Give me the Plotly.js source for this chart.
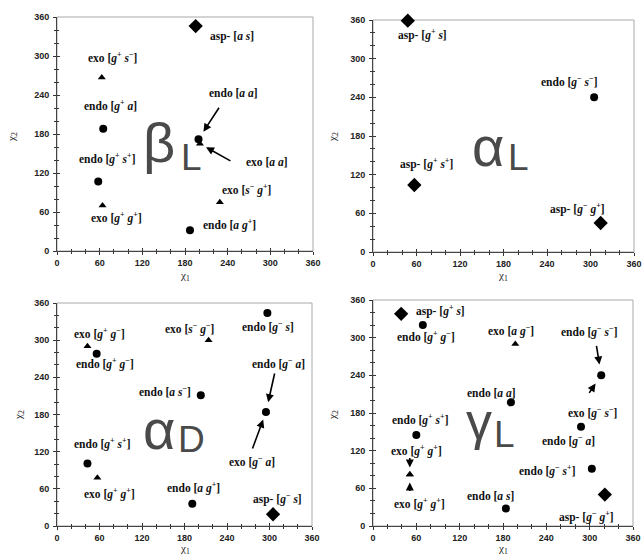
<!DOCTYPE html>
<html><head><meta charset="utf-8">
<script src="https://cdn.plot.ly/plotly-3.0.1.min.js"></script>
<style>html,body{margin:0;padding:0;background:#fff}#chart{width:643px;height:558px}</style>
</head><body><div id="chart"></div>
<script>
// ---------- DATA ----------
// beta-L panel
const bL_x = [195, 63, 65, 58, 64, 187, 229, 199, 201];
const bL_y = [346, 267, 188, 107, 70, 32, 75, 172, 165];
const bL_kind = ['asp','exo','endo','endo','exo','endo','exo','endo','exo'];
const bL_conf = ['a s','g+ s-','g+ a','g+ s+','g+ g+','a g+','s- g+','a a','a a'];
// alpha-L panel
const aL_x = [48, 305, 57, 314];
const aL_y = [359, 240, 104, 45];
const aL_kind = ['asp','endo','asp','asp'];
const aL_conf = ['g+ s','g- s-','g+ s+','g- g+'];
// alpha-D panel
const aD_x = [43, 56, 214, 297, 203, 295, 295, 43, 57, 191, 305];
const aD_y = [290, 278, 300, 344, 211, 184, 184, 101, 78, 36, 19];
const aD_kind = ['exo','endo','exo','endo','endo','endo','exo','endo','exo','endo','asp'];
const aD_conf = ['g+ g-','g+ g-','s- g-','g- s','a s-','g- a','g- a','g+ s+','g+ g+','a g+','g- s'];
// gamma-L panel
const gL_x = [39, 69, 197, 316, 316, 191, 60, 51, 51, 288, 303, 184, 321];
const gL_y = [338, 320, 290, 240, 240, 197, 145, 82, 82, 158, 91, 28, 50];
const gL_kind = ['asp','endo','exo','endo','exo','endo','endo','exo','exo','endo','endo','endo','asp'];
const gL_conf = ['g+ s','g+ g-','a g-','g- s-','g- s-','a a','g+ s+','g+ g+','g+ g+','g- a','g- s+','a s','g- g+'];

const tickVals = [0, 60, 120, 180, 240, 300, 360];
const regionNames = [['β','L'], ['α','L'], ['α','D'], ['γ','L']];

// ---------- LAYOUT CONFIG (positions / styles) ----------
const W = 643, H = 558;
const panelPx = [ // [left, right, top, bottom] in pixels
  [57, 313, 17, 251],
  [373, 634, 20, 252],
  [57, 312, 303, 526],
  [373, 633, 300, 526]
];
const labOff = [
  [[36,10],[11,-20],[7,-23],[9,-23],[14,12],[40,-6],[27,-13],[35,-46],[67,18]],
  [[15,14],[-25,-16],[12,-21],[-23,-15]],
  [[12,-13],[8,10],[-19,-12],[1,14],[-36,-4],[13,-49],[-14,49],[15,-20],[12,16],[1,-16],[4,-16]],
  [[39,-3],[3,11],[-4,-13],[-12,-44],[-9,37],[-19,-9],[4,-15],[7,-24],[10,29],[-13,14],[-44,2],[-15,-12],[-18,22]]
];
const arrows = [ // [pointIndex, tailDx, tailDy, standoff]
  [[7, 21.5, -33, 9], [8, 32, 18, 7]],
  [],
  [[5, 9, -40, 10], [6, -14, 38, 8]],
  [[3, -5, -31, 11], [4, -13, 19, 10], [7, 0, -18, 7], [8, 0, 18, 8]]
];
const bigPos = [ // [greekX, greekY, subX, subY] pixel centers
  [159, 143, 191, 157],
  [488, 146, 518, 157],
  [159, 430, 191, 439],
  [479, 421, 504, 434]
];
const bigSize = [[56, 37], [56, 37], [56, 37], [52, 37]];
const xTitlePos = [[185, 276], [503, 276], [185, 549], [503, 549]];
const yTitlePos = [[12, 137], [333, 137], [19, 415], [333, 415]];

const panels = [
  {x: bL_x, y: bL_y, kind: bL_kind, conf: bL_conf},
  {x: aL_x, y: aL_y, kind: aL_kind, conf: aL_conf},
  {x: aD_x, y: aD_y, kind: aD_kind, conf: aD_conf},
  {x: gL_x, y: gL_y, kind: gL_kind, conf: gL_conf}
];

const markerStyle = {
  endo: {symbol: 'circle', size: 8},
  exo: {symbol: 'triangle-up', size: 7},
  asp: {symbol: 'diamond', size: 11}
};
const labelFont = {family: 'Liberation Serif, Times New Roman, serif', size: 11.5, color: '#111', weight: 'bold'};

function fmtConf(kind, conf) {
  const prefix = kind === 'asp' ? 'asp-' : kind;
  const parts = conf.split(' ').map(tok => {
    const letter = tok[0];
    const sign = tok.slice(1);
    let s = '<i>' + letter + '</i>';
    if (sign) s += '<sup>' + (sign === '-' ? '−' : '+') + '</sup>';
    return s;
  });
  return prefix + ' [' + parts.join(' ') + ']';
}
const px2x = p => p / W;
const px2y = p => 1 - p / H;

const traces = [];
const annotations = [];
const shapes = [];
const layout = {
  width: W, height: H,
  margin: {l: 0, r: 0, t: 0, b: 0},
  paper_bgcolor: '#fff', plot_bgcolor: '#fff',
  showlegend: false,
  font: {family: 'Liberation Sans, Arial, sans-serif'}
};

panels.forEach((p, i) => {
  const n = i + 1;
  const sfx = n === 1 ? '' : String(n);
  const xa = 'x' + sfx, ya = 'y' + sfx;
  const pp = panelPx[i];
  const common = {
    range: [0, 360], tickvals: tickVals, ticktext: tickVals.map(String),
    ticks: 'outside', ticklen: 3, tickcolor: '#333', tickwidth: 1,
    minor: {dtick: 20, tick0: 0, ticks: 'outside', ticklen: 2, tickcolor: '#333'},
    showline: true, linecolor: '#444', linewidth: 1,
    showgrid: false, zeroline: false, fixedrange: true, automargin: false,
    tickfont: {family: 'Liberation Sans, Arial, sans-serif', size: 9, color: '#222', weight: 'bold'}
  };
  layout['xaxis' + sfx] = Object.assign({}, common, {domain: [px2x(pp[0]), px2x(pp[1])], anchor: ya});
  layout['yaxis' + sfx] = Object.assign({}, common, {domain: [px2y(pp[3]), px2y(pp[2])], anchor: xa, ticklabelstandoff: 2});
  // overlay axes to make ticks cross the axis lines
  const on = n + 4;
  const inner = {
    range: [0, 360], tickvals: tickVals, ticks: 'inside', ticklen: 3, tickcolor: '#333',
    minor: {dtick: 20, tick0: 0, ticks: 'inside', ticklen: 2, tickcolor: '#333'},
    showticklabels: false, showline: false, showgrid: false, zeroline: false,
    fixedrange: true, automargin: false
  };
  layout['xaxis' + on] = Object.assign({}, inner, {overlaying: xa, anchor: 'y' + on});
  layout['yaxis' + on] = Object.assign({}, inner, {overlaying: ya, anchor: 'x' + on});
  traces.push({type: 'scatter', x: [], y: [], xaxis: 'x' + on, yaxis: 'y' + on, hoverinfo: 'skip'});

  // light frame
  shapes.push({type: 'rect', xref: xa + ' domain', yref: ya + ' domain', x0: 0, x1: 1, y0: 0, y1: 1,
    line: {color: '#a8a8a8', width: 1}, layer: 'below'});

  // markers grouped by kind
  ['endo', 'exo', 'asp'].forEach(k => {
    const xs = [], ys = [];
    p.kind.forEach((kk, j) => { if (kk === k) { xs.push(p.x[j]); ys.push(p.y[j]); } });
    if (!xs.length) return;
    traces.push({
      type: 'scatter', mode: 'markers', x: xs, y: ys, xaxis: xa, yaxis: ya,
      cliponaxis: false,
      marker: {symbol: markerStyle[k].symbol, size: markerStyle[k].size, color: '#000', line: {width: 0}},
      hoverinfo: 'x+y'
    });
  });

  // labels
  p.conf.forEach((c, j) => {
    annotations.push({
      xref: xa, yref: ya, x: p.x[j], y: p.y[j],
      xshift: labOff[i][j][0], yshift: -labOff[i][j][1],
      text: fmtConf(p.kind[j], c), showarrow: false,
      xanchor: 'center', yanchor: 'middle', font: labelFont
    });
  });
  // arrows
  arrows[i].forEach(a => {
    annotations.push({
      xref: xa, yref: ya, x: p.x[a[0]], y: p.y[a[0]], text: '',
      showarrow: true, ax: a[1], ay: a[2], standoff: a[3],
      arrowhead: 2, arrowsize: 1, arrowwidth: 1.6, arrowcolor: '#000'
    });
  });

  // big region letters
  const bp = bigPos[i];
  annotations.push({xref: 'paper', yref: 'paper', x: px2x(bp[0]), y: px2y(bp[1]),
    text: regionNames[i][0], showarrow: false, xanchor: 'center', yanchor: 'middle',
    font: {family: 'Liberation Sans, Arial, sans-serif', size: bigSize[i][0], color: '#4a4a4a'}});
  annotations.push({xref: 'paper', yref: 'paper', x: px2x(bp[2]), y: px2y(bp[3]),
    text: regionNames[i][1], showarrow: false, xanchor: 'center', yanchor: 'middle',
    font: {family: 'Liberation Sans, Arial, sans-serif', size: bigSize[i][1], color: '#4a4a4a'}});

  // axis titles
  annotations.push({xref: 'paper', yref: 'paper', x: px2x(xTitlePos[i][0]), y: px2y(xTitlePos[i][1]),
    text: 'χ<sub>1</sub>', showarrow: false, xanchor: 'center', yanchor: 'middle',
    font: {family: 'Liberation Serif, Times New Roman, serif', size: 11, color: '#222'}});
  annotations.push({xref: 'paper', yref: 'paper', x: px2x(yTitlePos[i][0]), y: px2y(yTitlePos[i][1]),
    text: 'χ<sub>2</sub>', showarrow: false, xanchor: 'center', yanchor: 'middle', textangle: -90,
    font: {family: 'Liberation Serif, Times New Roman, serif', size: 11, color: '#222'}});
});

layout.annotations = annotations;
layout.shapes = shapes;

Plotly.newPlot('chart', traces, layout, {staticPlot: true, displayModeBar: false});
</script>
</body></html>
